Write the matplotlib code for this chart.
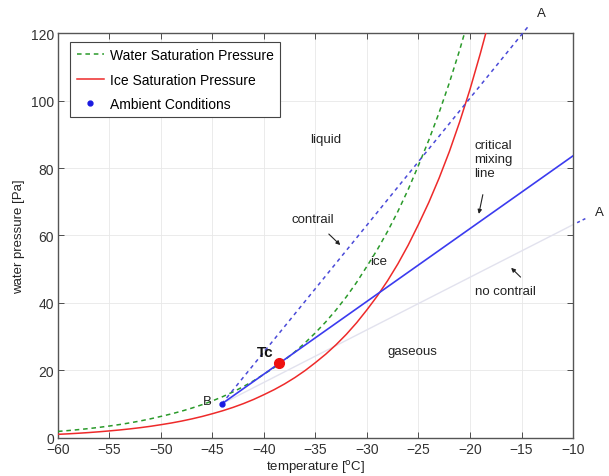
import matplotlib
matplotlib.use("Agg")
import matplotlib.pyplot as plt

plt.rcParams['font.family'] = ['Liberation Sans', 'DejaVu Sans']

# Saturation curves (every 1 degC)
temp_water = [-60, -59, -58, -57, -56, -55, -54, -53, -52, -51, -50,
              -49, -48, -47, -46, -45, -44, -43, -42, -41, -40,
              -39, -38, -37, -36, -35, -34, -33, -32, -31, -30,
              -29, -28, -27, -26, -25, -24, -23, -22, -21, -20]
p_water = [1.95, 2.20, 2.48, 2.79, 3.15, 3.55, 3.99, 4.49, 5.05, 5.69, 6.40,
           7.13, 7.95, 8.86, 9.87, 11.0, 12.26, 13.66, 15.22, 16.96, 18.9,
           20.89, 23.10, 25.53, 28.23, 31.2, 34.41, 37.95, 41.85, 46.15, 50.9,
           55.82, 61.22, 67.14, 73.64, 80.8, 88.26, 96.41, 105.3, 115.0, 125.6]

temp_ice = [-60, -59, -58, -57, -56, -55, -54, -53, -52, -51, -50,
            -49, -48, -47, -46, -45, -44, -43, -42, -41, -40,
            -39, -38, -37, -36, -35, -34, -33, -32, -31, -30,
            -29, -28, -27, -26, -25, -24, -23, -22, -21, -20,
            -19, -18, -17]
p_ice = [1.08, 1.23, 1.41, 1.61, 1.84, 2.10, 2.38, 2.70, 3.06, 3.47, 3.94,
         4.44, 5.01, 5.66, 6.38, 7.20, 8.08, 9.07, 10.18, 11.43, 12.84,
         14.34, 16.02, 17.90, 20.0, 22.35, 24.85, 27.64, 30.73, 34.17, 38.0,
         42.08, 46.6, 51.6, 57.15, 63.3, 69.8, 77.0, 84.9, 93.7, 103.3,
         113.9, 125.2, 137.5]

# Mixing lines
point_B = (-44.1, 10.1)
point_Tc = (-38.5, 22.2)
crit_end = (-10.0, 83.6)
contrail_A = (-14.2, 122.5)
nocontrail_A = (-8.8, 65.0)
nocontrail_edge = (-10.0, 63.2)

xticks = [-60, -55, -50, -45, -40, -35, -30, -25, -20, -15, -10]
yticks = [0, 20, 40, 60, 80, 100, 120]

fig = plt.figure(figsize=(6.09, 4.77), dpi=100)
ax = fig.add_axes([0.0952, 0.0797, 0.8457, 0.849])

green = '#2a9a2a'
red = '#ee2a2a'
blue = '#3b3bef'
dblue = '#4a4ad8'

ax.plot(temp_water, p_water, '--', color=green, lw=1.1, dashes=(3, 2.5),
        label='Water Saturation Pressure', zorder=3)
ax.plot(temp_ice, p_ice, '-', color=red, lw=1.1,
        label='Ice Saturation Pressure', zorder=3)

# no contrail faint line
ax.plot([point_B[0], nocontrail_edge[0]], [point_B[1], nocontrail_edge[1]],
        '-', color='#e2e2ee', lw=1.0, zorder=2)
ax.plot([nocontrail_edge[0] + 0.4, nocontrail_A[0]],
        [nocontrail_edge[1] + 0.6, nocontrail_A[1]], '--', color=dblue, lw=1.1,
        dashes=(2, 2), clip_on=False, zorder=3)

# contrail dashed line
ax.plot([point_B[0], contrail_A[0]], [point_B[1], contrail_A[1]], '--',
        color=dblue, lw=1.1, dashes=(2.5, 2.5), clip_on=False, zorder=3)

# critical mixing line
ax.plot([point_B[0], crit_end[0]], [point_B[1], crit_end[1]], '-',
        color=blue, lw=1.2, zorder=3)

ax.plot([point_B[0]], [point_B[1]], '.', color='#1a1ae0', ms=7,
        label='Ambient Conditions', zorder=4)
ax.plot([point_Tc[0]], [point_Tc[1]], 'o', color='#ee1111', ms=7, zorder=5)

ax.set_xlim(-60, -10)
ax.set_ylim(0, 120)
ax.set_xticks(xticks)
ax.set_yticks(yticks)
ax.tick_params(direction='in', top=True, right=True, labelsize=10,
               colors='#333333', length=4, width=0.6)
ax.tick_params(axis='x', pad=3)
ax.tick_params(axis='y', pad=3)
for sp in ax.spines.values():
    sp.set_color('#555555')
    sp.set_linewidth(1.0)
ax.grid(True, color='#e8e8e8', lw=0.6)
ax.set_axisbelow(True)

ax.set_xlabel('temperature [$^{\\rm o}$C]', fontsize=9.5, color='#222222', labelpad=1)
ax.set_ylabel('water pressure [Pa]', fontsize=9.5, color='#222222', labelpad=4)

tc = dict(fontsize=9.5, color='#222222')
ax.text(-34.0, 88.6, 'liquid', ha='center', va='center', **tc)
ax.text(-35.3, 64.9, 'contrail', ha='center', va='center', **tc)
ax.text(-28.9, 52.4, 'ice', ha='center', va='center', **tc)
ax.text(-19.6, 82.7, 'critical\nmixing\nline', ha='left', va='center',
        linespacing=1.25, **tc)
ax.text(-16.6, 43.6, 'no contrail', ha='center', va='center', **tc)
ax.text(-25.6, 25.8, 'gaseous', ha='center', va='center', **tc)
ax.text(-39.9, 25.5, 'Tc', ha='center', va='center', fontsize=11,
        fontweight='bold', color='#111111')
ax.text(-45.5, 11.0, 'B', ha='center', va='center', **tc)
ax.text(-13.1, 126.0, 'A', ha='center', va='center', fontsize=9.5,
        color='#222222', clip_on=False)
ax.text(-7.4, 67.0, 'A', ha='center', va='center', fontsize=9.5,
        color='#222222', clip_on=False)

arr = dict(arrowstyle='-|>', color='#222222', lw=0.8, mutation_scale=6)
ax.annotate('', xy=(-32.4, 56.6), xytext=(-33.9, 61.0), arrowprops=arr)
ax.annotate('', xy=(-19.2, 65.6), xytext=(-18.7, 72.9), arrowprops=arr)
ax.annotate('', xy=(-16.2, 51.0), xytext=(-14.9, 47.1), arrowprops=arr)

leg = ax.legend(loc='upper left', fontsize=10, frameon=True, fancybox=False,
                edgecolor='#444444', framealpha=1.0, handlelength=2.0,
                handletextpad=0.4, borderpad=0.45, borderaxespad=0.0,
                labelspacing=0.75, bbox_to_anchor=(0.024, 0.978))
leg.get_frame().set_linewidth(0.8)

fig.savefig('out.png', dpi=100)
